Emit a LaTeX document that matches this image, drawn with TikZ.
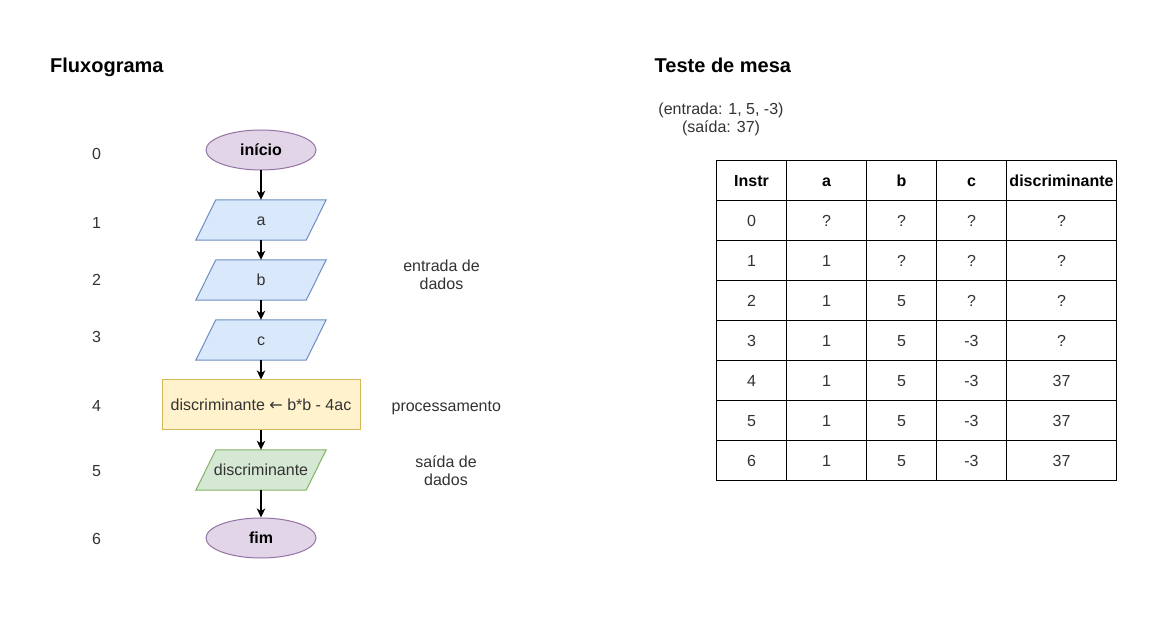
\documentclass[tikz,border=0pt]{standalone}
\usepackage{fontspec}
\setmainfont{Liberation Sans}
\newfontfamily\djv{DejaVu Sans}
\usetikzlibrary{shapes.geometric,arrows.meta,backgrounds}
\definecolor{purF}{HTML}{E1D5E7}
\definecolor{purS}{HTML}{9673A6}
\definecolor{bluF}{HTML}{DAE8FC}
\definecolor{bluS}{HTML}{6C8EBF}
\definecolor{yelF}{HTML}{FFF2CC}
\definecolor{yelS}{HTML}{D6B656}
\definecolor{grnF}{HTML}{D5E8D4}
\definecolor{grnS}{HTML}{82B366}
\definecolor{txt}{HTML}{333333}
\tikzset{
  basetext/.style={font=\fontsize{16}{18}\selectfont, text=txt, inner sep=0pt, text height=11.5pt, text depth=0pt},
  terminal/.style={basetext, ellipse, draw=purS, fill=purF, line width=1pt, minimum width=110pt, minimum height=40pt, font=\fontsize{16}{18}\selectfont\bfseries, text=black},
  paranode/.style={basetext, minimum width=110pt, minimum height=40pt},
  process/.style={basetext, rectangle, draw=yelS, fill=yelF, line width=1pt, minimum width=198pt, minimum height=50pt},
  bluepara/.style={draw=bluS, fill=bluF, line width=1pt},
  greenpara/.style={draw=grnS, fill=grnF, line width=1pt},
  arr/.style={-{Stealth[length=9pt,width=8.5pt,inset=2.5pt]}, line width=1.2pt, black},
  lbl/.style={basetext},
  note/.style={font=\fontsize{16}{18}\selectfont, text=txt, inner sep=0pt, align=center},
  titletext/.style={font=\fontsize{20}{24}\selectfont\bfseries, text=black, inner sep=0pt, anchor=base west},
  hdr/.style={basetext, font=\fontsize{16}{18}\selectfont\bfseries, text=black},
  cell/.style={basetext},
  gridline/.style={line width=1pt, black}
}
\begin{document}
\begin{tikzpicture}[x=1pt,y=-1pt]
\useasboundingbox (0,0) rectangle (1168,617);

% titles
\node[titletext] (t1) at (50,73) {Fluxograma};
\node[titletext] (t2) at (654.5,73) {Teste de mesa};
\node[note] (io) at (721,119.5) {(entrada: 1, 5, -3)\\(saída: 37)};

% step numbers
\node[lbl] (n0) at (96.5,153.3) {0};
\node[lbl] (n1) at (96.5,223) {1};
\node[lbl] (n2) at (96.5,280) {2};
\node[lbl] (n3) at (96.5,336.7) {3};
\node[lbl] (n4) at (96.5,406) {4};
\node[lbl] (n5) at (96.5,470.7) {5};
\node[lbl] (n6) at (96.5,538.7) {6};

% flowchart
\node[terminal] (ini) at (261,150) {início};
\node[paranode] (pa) at (261,220) {a};
\node[paranode] (pb) at (261,280) {b};
\node[paranode] (pc) at (261,340) {c};
\node[process] (proc) at (261,405) {discriminante {\djv ←} b*b - 4ac};
\node[paranode] (pd) at (261,470) {discriminante};
\node[terminal] (fim) at (261,538) {fim};

\begin{scope}[on background layer]
\fill[white] (0,0) rectangle (1168,617);
\foreach \n in {pa,pb,pc}{
  \draw[bluepara] ([xshift=-10pt]\n.south west) -- ([xshift=-10pt]\n.south east) -- ([xshift=10pt]\n.north east) -- ([xshift=10pt]\n.north west) -- cycle;
}
\draw[greenpara] ([xshift=-10pt]pd.south west) -- ([xshift=-10pt]pd.south east) -- ([xshift=10pt]pd.north east) -- ([xshift=10pt]pd.north west) -- cycle;
\end{scope}

\draw[arr] (ini.south) -- (pa.north);
\draw[arr] (pa.south) -- (pb.north);
\draw[arr] (pb.south) -- (pc.north);
\draw[arr] (pc.south) -- (proc.north);
\draw[arr] (proc.south) -- (pd.north);
\draw[arr] (pd.south) -- (fim.north);

% annotations
\node[note] (ent) at (441.5,275) {entrada de\\dados};
\node[lbl] (pro) at (446.3,405.3) {processamento};
\node[note] (sai) at (446,470.5) {saída de\\dados};

% table grid
\draw[gridline] (716.5,160.5) rectangle (1116.5,480.5);
\foreach \x in {786.5,866.5,936.5,1006.5}
  \draw[gridline] (\x,160.5) -- (\x,480.5);
\foreach \y in {200.5,240.5,280.5,320.5,360.5,400.5,440.5}
  \draw[gridline] (716.5,\y) -- (1116.5,\y);

% header
\node[hdr] (h0) at (751.5,180.5) {Instr};
\node[hdr] (h1) at (826.5,180.5) {a};
\node[hdr] (h2) at (901.5,180.5) {b};
\node[hdr] (h3) at (971.5,180.5) {c};
\node[hdr] (h4) at (1061.5,180.5) {discriminante};

% rows
\foreach \r/\va/\vb/\vc/\vd [count=\i from 0] in {0/?/?/?/?, 1/1/?/?/?, 2/1/5/?/?, 3/1/5/-3/?, 4/1/5/-3/37, 5/1/5/-3/37, 6/1/5/-3/37}{
  \node[cell] (c\i-0) at (751.5,220.5+40*\i) {\r};
  \node[cell] (c\i-1) at (826.5,220.5+40*\i) {\va};
  \node[cell] (c\i-2) at (901.5,220.5+40*\i) {\vb};
  \node[cell] (c\i-3) at (971.5,220.5+40*\i) {\vc};
  \node[cell] (c\i-4) at (1061.5,220.5+40*\i) {\vd};
}
\end{tikzpicture}
\end{document}
